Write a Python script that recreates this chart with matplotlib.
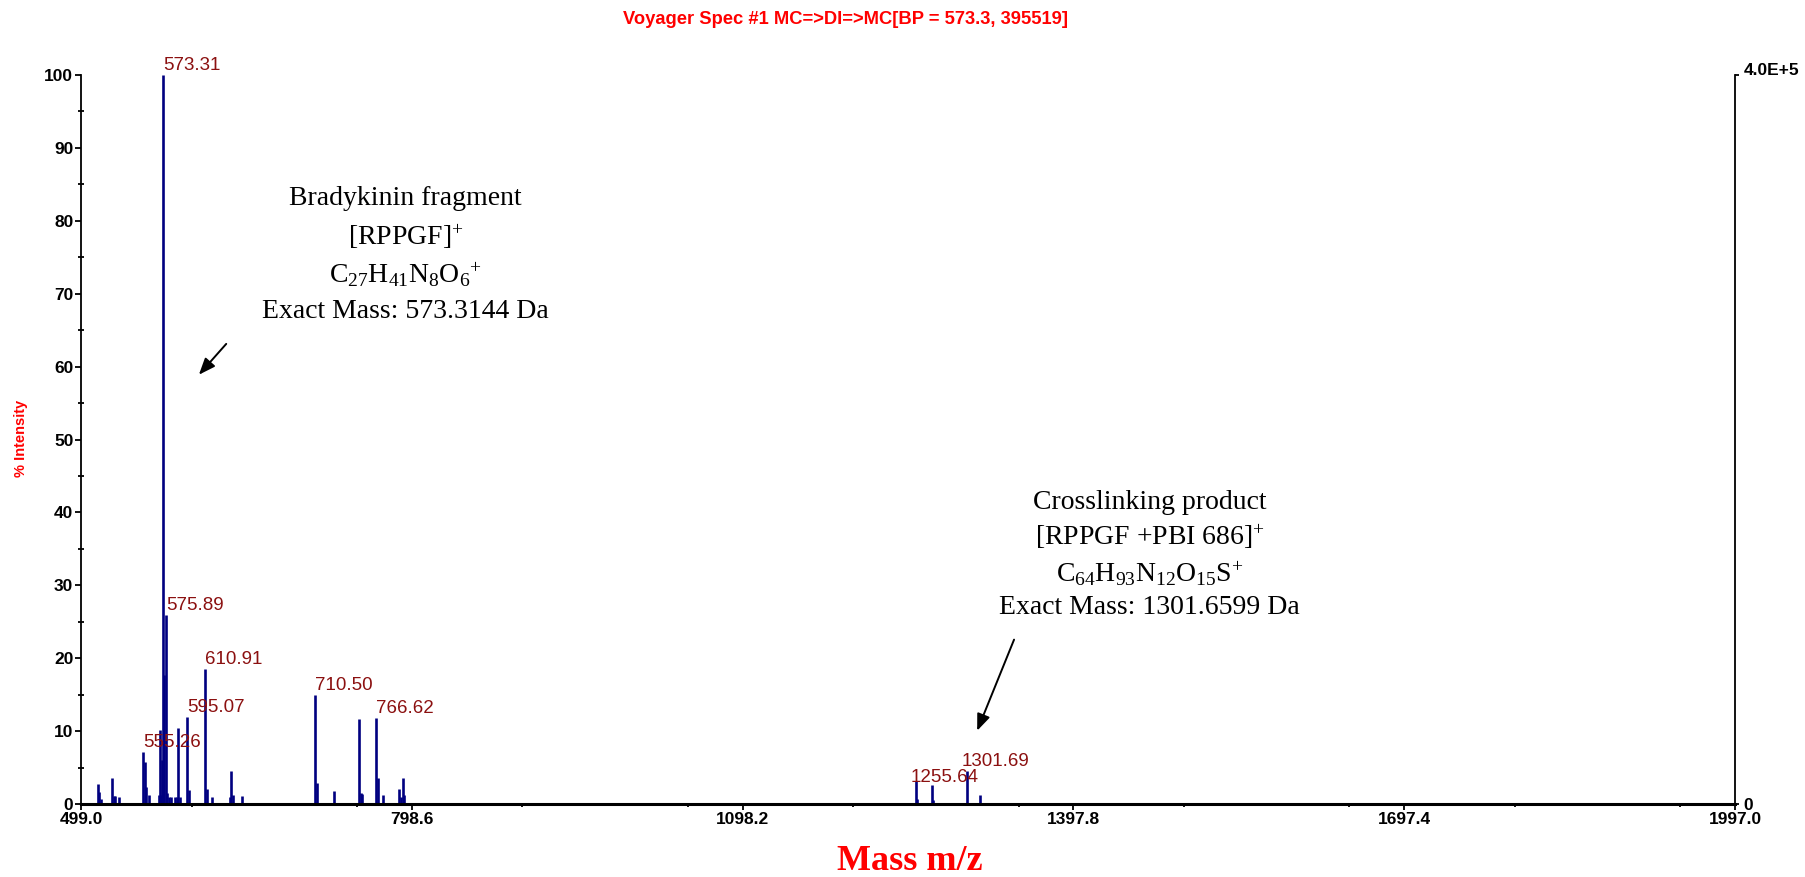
import matplotlib
matplotlib.use("Agg")
import matplotlib.pyplot as plt
from matplotlib.ticker import MultipleLocator, FixedLocator

# ---- data ----
peak_mz = [514.1, 515.6, 517.4, 526.8, 528.9, 530.1, 533.7,
           555.26, 556.7, 558.2, 560.3, 569.7, 570.8, 571.6, 572.4, 573.31, 574.4, 575.89,
           577.2, 579.0, 580.5, 584.1, 585.7, 586.9, 588.7, 595.07, 596.5,
           610.91, 612.8, 617.4, 634.0, 635.2, 636.7, 644.8,
           710.50, 712.5, 728.5, 750.8, 752.3, 753.5, 766.62, 768.0, 772.9,
           787.0, 788.6, 790.4, 791.9,
           1255.64, 1256.6, 1269.5, 1270.5, 1301.69, 1313.0]
peak_int = [2.8, 1.7, 0.7, 3.6, 1.1, 1.1, 1.0,
            7.2, 5.8, 2.4, 1.3, 1.3, 10.1, 1.2, 6.0, 100.0, 17.7, 25.9,
            1.5, 1.0, 1.0, 1.0, 1.0, 10.4, 1.0, 12.0, 1.9,
            18.5, 2.1, 1.0, 1.0, 4.5, 1.3, 1.1,
            14.9, 2.9, 1.8, 11.7, 1.5, 1.4, 11.8, 3.6, 1.3,
            2.0, 0.9, 3.5, 1.3,
            3.2, 0.7, 2.6, 0.5, 4.5, 1.2]

labels_mz = [573.31, 575.89, 555.26, 595.07, 610.91, 710.50, 766.62, 1255.64, 1301.69]
labels_txt = ["573.31", "575.89", "555.26", "595.07", "610.91", "710.50", "766.62", "1255.64", "1301.69"]

x_ticks = [499.0, 798.6, 1098.2, 1397.8, 1697.4, 1997.0]
y_ticks = [0, 10, 20, 30, 40, 50, 60, 70, 80, 90, 100]

title = "Voyager Spec #1 MC=>DI=>MC[BP = 573.3, 395519]"

plt.rcParams['mathtext.fontset'] = 'custom'
plt.rcParams['mathtext.rm'] = 'Liberation Serif'
plt.rcParams['mathtext.it'] = 'Liberation Serif:italic'
plt.rcParams['mathtext.bf'] = 'Liberation Serif:bold'

sans = 'Liberation Sans'
serif = 'Liberation Serif'

fig = plt.figure(figsize=(18.06, 8.77), dpi=100)
ax = fig.add_axes([81/1806, 73/877, (1735-81)/1806, (804-75)/877])

ax.vlines(peak_mz, 0, peak_int, colors='#000080', linewidth=1.9)

ax.set_xlim(x_ticks[0], x_ticks[-1])
ax.set_ylim(0, 100)

for s in ['top', 'right']:
    ax.spines[s].set_visible(False)
ax.spines['left'].set_linewidth(1.3)
ax.spines['bottom'].set_linewidth(2.2)

ax.xaxis.set_major_locator(FixedLocator(x_ticks))
ax.xaxis.set_minor_locator(MultipleLocator(149.8))
ax.set_xticklabels([f"{v:.1f}" for v in x_ticks], fontfamily=sans, fontweight='bold', fontsize=12.5)
ax.yaxis.set_major_locator(FixedLocator(y_ticks))
ax.yaxis.set_minor_locator(MultipleLocator(5))
ax.set_yticklabels([str(v) for v in y_ticks], fontfamily=sans, fontweight='bold', fontsize=12.5)

ax.tick_params(axis='both', which='major', direction='out', length=4.5, width=1.3, pad=1)
ax.tick_params(axis='y', which='minor', direction='inout', length=4, width=1.3)
ax.tick_params(axis='x', which='minor', direction='out', length=2.5, width=1.3)

# right axis
ax2 = ax.twinx()
ax2.set_ylim(0, 1)
for s in ['top', 'left', 'bottom']:
    ax2.spines[s].set_visible(False)
ax2.spines['right'].set_linewidth(1.3)
ax2.set_yticks([0, 1])
ax2.set_yticklabels(['0', '4.0E+5'], fontfamily=sans, fontweight='bold', fontsize=12.5)
ax2.get_yticklabels()[1].set_verticalalignment('baseline')
ax2.tick_params(axis='y', direction='out', length=3, width=1.3, pad=3)

# peak labels
label_offsets = {1255.64: (-6, -5), 1301.69: (-6, 1)}
for mz, txt in zip(labels_mz, labels_txt):
    h = peak_int[peak_mz.index(mz)]
    off = label_offsets.get(mz, (0, 1))
    ax.annotate(txt, xy=(mz, h), xytext=off, textcoords='offset pixels',
                ha='left', va='bottom', color='#8B1010', fontsize=13.5,
                fontfamily=sans, annotation_clip=False)

# annotations
ann_kw = dict(ha='center', va='center', fontsize=20, fontfamily=serif, color='black')
ax.text(793, 83.0, 'Bradykinin fragment', **ann_kw)
ax.text(793, 77.8, r'[RPPGF]$^{+}$', **ann_kw)
ax.text(793, 72.6, r'C$_{27}$H$_{41}$N$_{8}$O$_{6}$$^{+}$', **ann_kw)
ax.text(793, 67.6, 'Exact Mass: 573.3144 Da', **ann_kw)

ax.text(1467, 41.4, 'Crosslinking product', **ann_kw)
ax.text(1467, 36.6, r'[RPPGF +PBI 686]$^{+}$', **ann_kw)
ax.text(1467, 31.6, r'C$_{64}$H$_{93}$N$_{12}$O$_{15}$S$^{+}$', **ann_kw)
ax.text(1467, 27.0, 'Exact Mass: 1301.6599 Da', **ann_kw)

arrow_kw = dict(arrowstyle='-|>,head_length=1.0,head_width=0.4', color='black', lw=1.4)
ax.annotate('', xy=(604.1, 58.6), xytext=(632.2, 63.4), arrowprops=arrow_kw)
ax.annotate('', xy=(1309.7, 9.7), xytext=(1345, 22.9), arrowprops=arrow_kw)

fig.text(846/1806, 1 - 20/877, title, ha='center', va='center', color='red',
         fontsize=13.2, fontweight='bold', fontfamily=sans)
fig.text(910/1806, 1 - 862/877, 'Mass m/z', ha='center', va='center', color='red',
         fontsize=26, fontweight='bold', fontfamily=serif)
fig.text(21/1806, 1 - 438/877, '% Intensity', ha='center', va='center', color='red',
         fontsize=10.5, fontweight='bold', fontfamily=sans, rotation=90)

fig.savefig('out.png', dpi=100)
